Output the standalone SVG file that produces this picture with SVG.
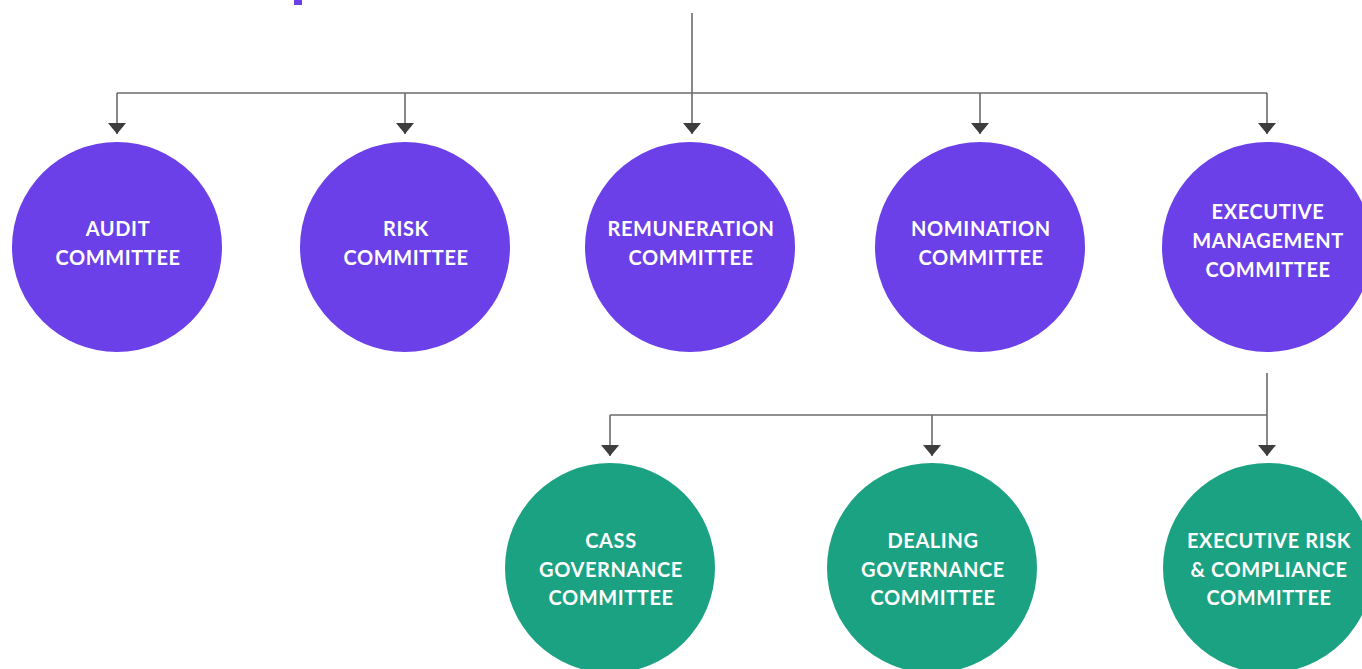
<svg xmlns="http://www.w3.org/2000/svg" width="1362" height="669" viewBox="0 0 1362 669">
<defs>
<marker id="arr" viewBox="0 0 11 18" refX="11" refY="9" markerWidth="11" markerHeight="18" markerUnits="userSpaceOnUse" orient="auto">
<path d="M0,0 L11,9 L0,18 Z" fill="#3d3d3d"/>
</marker>
</defs>
<style>
.p{fill:#6c40e8}
.g{fill:#1ba282}
.t{fill:#ffffff;font-family:Lato,"Open Sans",sans-serif;font-weight:700;font-size:20px;letter-spacing:0.6px;text-anchor:middle}
.c{stroke:#6b6b6b;stroke-width:1.6;fill:none}
.d{stroke:#6b6b6b;stroke-width:1.6;fill:none;marker-end:url(#arr)}
</style>
<rect width="1362" height="669" fill="#ffffff"/>
<rect x="294" y="0" width="8" height="5" class="p"/>
<g id="connectors">
<line class="c" x1="692" y1="13" x2="692" y2="93"/>
<line class="c" x1="117" y1="93" x2="1267" y2="93"/>
<line class="d" x1="117" y1="93" x2="117" y2="134"/>
<line class="d" x1="405" y1="93" x2="405" y2="134"/>
<line class="d" x1="692" y1="93" x2="692" y2="134"/>
<line class="d" x1="980" y1="93" x2="980" y2="134"/>
<line class="d" x1="1267" y1="93" x2="1267" y2="134"/>
<line class="c" x1="1267" y1="373" x2="1267" y2="415"/>
<line class="c" x1="610" y1="415" x2="1267" y2="415"/>
<line class="d" x1="610" y1="415" x2="610" y2="456"/>
<line class="d" x1="932" y1="415" x2="932" y2="456"/>
<line class="d" x1="1267" y1="415" x2="1267" y2="456"/>
</g>
<g id="audit"><circle class="p" cx="117" cy="247" r="105"/><text class="t"><tspan x="118" y="236">AUDIT</tspan><tspan x="118" y="265">COMMITTEE</tspan></text></g>
<g id="risk"><circle class="p" cx="405" cy="247" r="105"/><text class="t"><tspan x="406" y="236">RISK</tspan><tspan x="406" y="265">COMMITTEE</tspan></text></g>
<g id="remuneration"><circle class="p" cx="690" cy="247" r="105"/><text class="t"><tspan x="691" y="236">REMUNERATION</tspan><tspan x="691" y="265">COMMITTEE</tspan></text></g>
<g id="nomination"><circle class="p" cx="980" cy="247" r="105"/><text class="t"><tspan x="981" y="236">NOMINATION</tspan><tspan x="981" y="265">COMMITTEE</tspan></text></g>
<g id="executive"><circle class="p" cx="1267" cy="247" r="105"/><text class="t"><tspan x="1268" y="219">EXECUTIVE</tspan><tspan x="1268" y="248">MANAGEMENT</tspan><tspan x="1268" y="277">COMMITTEE</tspan></text></g>
<g id="cass"><circle class="g" cx="610" cy="568" r="105"/><text class="t"><tspan x="611" y="548">CASS</tspan><tspan x="611" y="577">GOVERNANCE</tspan><tspan x="611" y="605">COMMITTEE</tspan></text></g>
<g id="dealing"><circle class="g" cx="932" cy="568" r="105"/><text class="t"><tspan x="933" y="548">DEALING</tspan><tspan x="933" y="577">GOVERNANCE</tspan><tspan x="933" y="605">COMMITTEE</tspan></text></g>
<g id="exec-risk"><circle class="g" cx="1268" cy="568" r="105"/><text class="t"><tspan x="1269" y="548">EXECUTIVE RISK</tspan><tspan x="1269" y="577">&amp; COMPLIANCE</tspan><tspan x="1269" y="605">COMMITTEE</tspan></text></g>
</svg>
